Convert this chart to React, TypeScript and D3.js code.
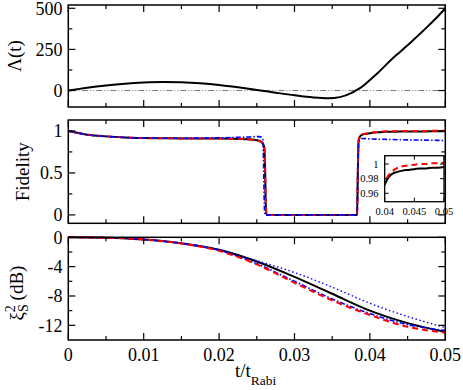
import React from 'react';
import * as d3 from 'd3';

// Lambda(t)
const lambdaT = [0, 0.0025, 0.005, 0.0075, 0.01, 0.0125, 0.015, 0.0175, 0.02, 0.0225, 0.025, 0.0275, 0.03, 0.0325, 0.0345, 0.036, 0.0375, 0.038, 0.039, 0.04, 0.041, 0.042, 0.043, 0.044, 0.045, 0.046, 0.047, 0.048, 0.049, 0.05];
const lambdaV = [0, 17, 31, 42, 49, 52, 50, 44, 34, 20, 4, -13, -29, -42, -47, -40, -16, -3, 25, 64, 105, 150, 195, 235, 275, 318, 360, 405, 450, 500];

// Fidelity
const fidT = [0, 0.001, 0.0025, 0.005, 0.0075, 0.01, 0.0125, 0.015, 0.0175, 0.02, 0.022, 0.024, 0.025, 0.0255, 0.0258, 0.026, 0.0261, 0.0262, 0.0263, 0.0383, 0.0384, 0.0385, 0.0387, 0.039, 0.0395, 0.04, 0.0405, 0.041, 0.042, 0.043, 0.044, 0.045, 0.046, 0.047, 0.048, 0.049, 0.05];
const fidBlack = [1.0, 0.98, 0.955, 0.935, 0.922, 0.915, 0.912, 0.911, 0.91, 0.91, 0.908, 0.9, 0.89, 0.875, 0.85, 0.8, 0.55, 0.1, 0, 0, 0.5, 0.88, 0.935, 0.955, 0.965, 0.972, 0.98, 0.985, 0.989, 0.991, 0.992, 0.993, 0.994, 0.994, 0.995, 0.995, 0.996];
const fidRed = [1.0, 0.98, 0.955, 0.935, 0.922, 0.915, 0.912, 0.911, 0.91, 0.91, 0.907, 0.898, 0.887, 0.872, 0.848, 0.8, 0.55, 0.1, 0, 0, 0.5, 0.885, 0.94, 0.96, 0.968, 0.974, 0.983, 0.988, 0.994, 0.997, 0.998, 0.999, 1.0, 1.0, 1.001, 1.001, 1.002];
const fidBlueT = [0, 0.001, 0.0025, 0.005, 0.0075, 0.01, 0.0125, 0.015, 0.0175, 0.02, 0.022, 0.024, 0.025, 0.0253, 0.0256, 0.0258, 0.0259, 0.026, 0.0261, 0.0383, 0.0384, 0.0385, 0.0387, 0.039, 0.0395, 0.04, 0.042, 0.044, 0.046, 0.048, 0.05];
const fidBlue = [1.0, 0.98, 0.955, 0.935, 0.922, 0.915, 0.913, 0.913, 0.915, 0.918, 0.922, 0.928, 0.932, 0.932, 0.925, 0.9, 0.6, 0.1, 0, 0, 0.5, 0.85, 0.9, 0.91, 0.908, 0.905, 0.9, 0.895, 0.892, 0.889, 0.886];

// squeezing xi_S^2 (dB)
const sqT = [0, 0.005, 0.01, 0.015, 0.02, 0.025, 0.03, 0.035, 0.04, 0.045, 0.05];
const sqBlack = [0, -0.05, -0.3, -0.8, -1.7, -3.3, -5.4, -7.7, -10.0, -11.7, -12.9];
const sqRed = [0, -0.05, -0.3, -0.85, -1.85, -3.7, -6.2, -8.6, -10.6, -12.2, -13.0];
const sqBlueDash = [0, -0.05, -0.3, -0.85, -1.8, -3.6, -6.0, -8.4, -10.4, -11.9, -12.7];
const sqBlueDot = [0, -0.05, -0.3, -0.8, -1.7, -3.2, -4.8, -6.8, -9.0, -10.8, -12.3];

const xTicks = [0, 0.01, 0.02, 0.03, 0.04, 0.05];
const xTickLabels = ['0', '0.01', '0.02', '0.03', '0.04', '0.05'];
const xMinor = [0.005, 0.015, 0.025, 0.035, 0.045];
const insetXTicks = [0.04, 0.045, 0.05];
const insetXLabels = ['0.04', '0.045', '0.05'];
const insetYTicks = [0.96, 0.98, 1];
const insetYLabels = ['0.96', '0.98', '1'];

const font = "'Liberation Serif', 'Times New Roman', 'DejaVu Serif', serif";
const xL = 68.3, xR = 445.3;
const x = d3.scaleLinear().domain([0, 0.05]).range([xL, xR]);
const zip = (t: number[], v: number[]) => t.map((d, i) => [d, v[i]] as [number, number]);

function Frame({ y, top, bottom, major, labels, minor }: any) {
  return (
    <g>
      <rect x={xL} y={top} width={xR - xL} height={bottom - top} fill="none" stroke="#000" strokeWidth={1.5} />
      {xTicks.map(t => (
        <g key={'xm' + t}>
          <line x1={x(t)} x2={x(t)} y1={bottom} y2={bottom - 7} stroke="#000" strokeWidth={1.2} />
          <line x1={x(t)} x2={x(t)} y1={top} y2={top + 7} stroke="#000" strokeWidth={1.2} />
        </g>
      ))}
      {xMinor.map(t => (
        <g key={'xn' + t}>
          <line x1={x(t)} x2={x(t)} y1={bottom} y2={bottom - 4} stroke="#000" strokeWidth={1.2} />
          <line x1={x(t)} x2={x(t)} y1={top} y2={top + 4} stroke="#000" strokeWidth={1.2} />
        </g>
      ))}
      {major.map((v: number, i: number) => (
        <g key={'ym' + v}>
          <line x1={xL} x2={xL + 7} y1={y(v)} y2={y(v)} stroke="#000" strokeWidth={1.2} />
          <line x1={xR} x2={xR - 7} y1={y(v)} y2={y(v)} stroke="#000" strokeWidth={1.2} />
          <text x={62.5} y={y(v)} dy="0.35em" textAnchor="end" fontSize={18}>{labels[i]}</text>
        </g>
      ))}
      {minor.map((v: number) => (
        <g key={'yn' + v}>
          <line x1={xL} x2={xL + 4} y1={y(v)} y2={y(v)} stroke="#000" strokeWidth={1.2} />
          <line x1={xR} x2={xR - 4} y1={y(v)} y2={y(v)} stroke="#000" strokeWidth={1.2} />
        </g>
      ))}
    </g>
  );
}

export default function App() {
  const y1 = d3.scaleLinear().domain([-100, 520]).range([107, 5]);
  const y2 = d3.scaleLinear().domain([-0.1, 1.13]).range([223.3, 120]);
  const y3 = d3.scaleLinear().domain([-14, 0]).range([340, 237.3]);
  const xi = d3.scaleLinear().domain([0.04, 0.05]).range([384.7, 444]);
  const yi = d3.scaleLinear().domain([0.9485, 1.0114]).range([201.7, 155.7]);

  const mk = (y: any) => d3.line<[number, number]>().x(d => x(d[0])).y(d => y(d[1])).curve(d3.curveMonotoneX);
  const l1 = mk(y1), l2 = mk(y2), l3 = mk(y3);
  const li = d3.line<[number, number]>().x(d => xi(d[0])).y(d => yi(d[1])).curve(d3.curveMonotoneX);
  const insetPts = (v: number[]) => zip(fidT, v).filter(d => d[0] >= 0.0395);

  return (
    <svg width={463} height={390} style={{ position: 'absolute', left: 0, top: 0, background: '#fff', fontFamily: font }}>
      <defs>
        <clipPath id="insetClip"><rect x={384.7} y={155.7} width={444 - 384.7} height={46} /></clipPath>
      </defs>

      {/* top panel */}
      <line x1={xL} x2={xR} y1={y1(0)} y2={y1(0)} stroke="#777" strokeWidth={1} strokeDasharray="6,2,1,2,1,2" />
      <path d={l1(zip(lambdaT, lambdaV)) || ''} fill="none" stroke="#000" strokeWidth={2} />
      <Frame y={y1} top={5} bottom={107} major={[0, 250, 500]} labels={['0', '250', '500']} minor={[125, 375]} />
      <text transform="translate(21,56) rotate(-90)" textAnchor="middle" fontSize={19}>Λ(t)</text>

      {/* fidelity panel */}
      <path d={l2(zip(fidT, fidBlack)) || ''} fill="none" stroke="#000" strokeWidth={2} />
      <path d={l2(zip(fidT, fidRed)) || ''} fill="none" stroke="#f00" strokeWidth={2} strokeDasharray="6,4" />
      <path d={l2(zip(fidBlueT, fidBlue)) || ''} fill="none" stroke="#00f" strokeWidth={1.6} strokeDasharray="5,2,1.5,2" />
      <Frame y={y2} top={120} bottom={223.3} major={[0, 0.5, 1]} labels={['0', '0.5', '1']} minor={[0.25, 0.75]} />
      <text transform="translate(29,171.7) rotate(-90)" textAnchor="middle" fontSize={19}>Fidelity</text>

      {/* inset */}
      <rect x={384.7} y={155.7} width={444 - 384.7} height={46} fill="#fff" />
      <g clipPath="url(#insetClip)">
        <path d={li(insetPts(fidBlack)) || ''} fill="none" stroke="#000" strokeWidth={2} />
        <path d={li(insetPts(fidRed)) || ''} fill="none" stroke="#f00" strokeWidth={2} strokeDasharray="6,4" />
      </g>
      <rect x={384.7} y={155.7} width={444 - 384.7} height={46} fill="none" stroke="#000" strokeWidth={1.3} />
      {insetYTicks.map((v, i) => (
        <g key={'iy' + v}>
          <line x1={384.7} x2={388.7} y1={yi(v)} y2={yi(v)} stroke="#000" />
          <line x1={444} x2={440} y1={yi(v)} y2={yi(v)} stroke="#000" />
          <text x={378.5} y={yi(v)} dy="0.35em" textAnchor="end" fontSize={10.5}>{insetYLabels[i]}</text>
        </g>
      ))}
      {insetXTicks.map((v, i) => (
        <g key={'ix' + v}>
          <line x1={xi(v)} x2={xi(v)} y1={201.7} y2={197.7} stroke="#000" />
          <line x1={xi(v)} x2={xi(v)} y1={155.7} y2={159.7} stroke="#000" />
          <text x={xi(v)} y={215} textAnchor="middle" fontSize={10.5}>{insetXLabels[i]}</text>
        </g>
      ))}

      {/* squeezing panel */}
      <path d={l3(zip(sqT, sqBlack)) || ''} fill="none" stroke="#000" strokeWidth={2} />
      <path d={l3(zip(sqT, sqBlueDot)) || ''} fill="none" stroke="#00f" strokeWidth={1.4} strokeDasharray="1.5,2.5" />
      <path d={l3(zip(sqT, sqBlueDash)) || ''} fill="none" stroke="#00f" strokeWidth={1.6} strokeDasharray="5,2,1.5,2" />
      <path d={l3(zip(sqT, sqRed)) || ''} fill="none" stroke="#f00" strokeWidth={2} strokeDasharray="6,4" />
      <Frame y={y3} top={237.3} bottom={340} major={[0, -4, -8, -12]} labels={['0', '-4', '-8', '-12']} minor={[-2, -6, -10]} />
      <text transform="translate(23,293) rotate(-90)" textAnchor="middle" fontSize={19}>
        ξ<tspan fontSize={14} dy={5}>S</tspan><tspan fontSize={14} dx={-8} dy={-13}>2</tspan><tspan dy={8}> (dB)</tspan>
      </text>

      {xTicks.map((t, i) => (
        <text key={'xl' + t} x={x(t)} y={361} textAnchor="middle" fontSize={18}>{xTickLabels[i]}</text>
      ))}
      <text x={235} y={376.5} fontSize={19}>t/t<tspan fontSize={13.5} dy={8.5}>Rabi</tspan></text>
    </svg>
  );
}
